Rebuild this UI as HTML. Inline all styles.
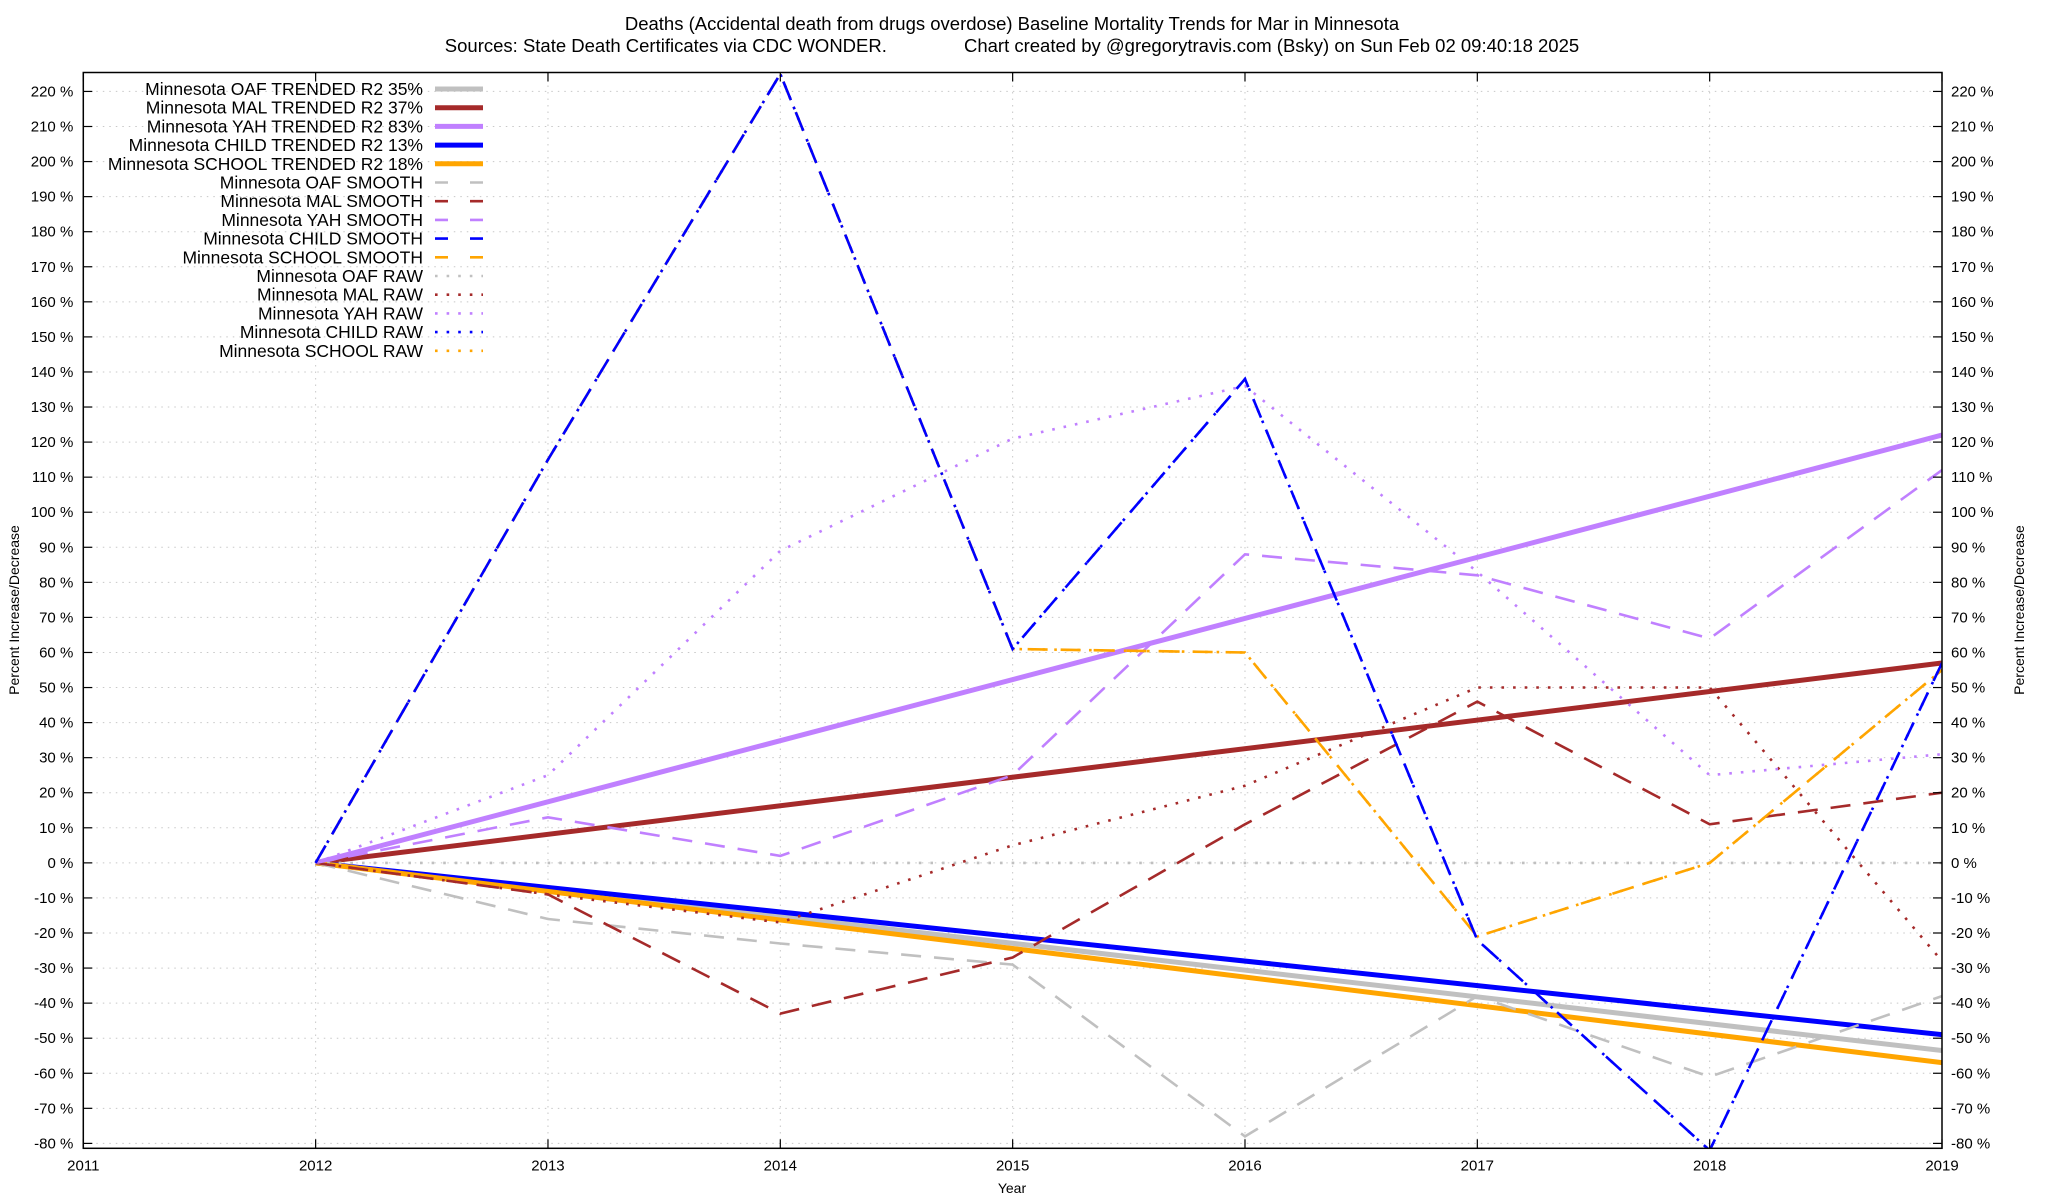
<!DOCTYPE html>
<html><head><meta charset="utf-8"><style>
html,body{margin:0;padding:0;background:#fff;}
svg{display:block;font-family:"Liberation Sans",sans-serif;}
</style></head><body>
<svg id="chart" width="2048" height="1200" xmlns="http://www.w3.org/2000/svg">
<rect width="2048" height="1200" fill="#fff"/>
<text x="1012" y="30" font-size="18.5" text-anchor="middle">Deaths (Accidental death from drugs overdose)  Baseline Mortality Trends for Mar in Minnesota</text>
<text x="1012" y="52" font-size="18.5" text-anchor="middle" xml:space="preserve">Sources: State Death Certificates via CDC WONDER.               Chart created by @gregorytravis.com (Bsky) on Sun Feb 02 09:40:18 2025</text>
<g id="grid"></g>
<g id="series"></g>
<rect x="83.3" y="72.5" width="1858.7" height="1075.8" fill="none" stroke="#000" stroke-width="1.5"/>
<g id="axes"></g>
<text transform="translate(19,610) rotate(-90)" font-size="14" text-anchor="middle">Percent Increase/Decrease</text>
<text transform="translate(2024,610) rotate(-90)" font-size="14" text-anchor="middle">Percent Increase/Decrease</text>
<text x="1012" y="1193" font-size="14" text-anchor="middle">Year</text>
<g id="legend"></g>
</svg>
<script>
const years = [2012, 2013, 2014, 2015, 2016, 2017, 2018, 2019];
const xTicks = [2011, 2012, 2013, 2014, 2015, 2016, 2017, 2018, 2019];
const yTicks = [-80,-70,-60,-50,-40,-30,-20,-10,0,10,20,30,40,50,60,70,80,90,100,110,120,130,140,150,160,170,180,190,200,210,220];
const oafTrend = [0, -53.5];
const malTrend = [0, 57];
const yahTrend = [0, 122];
const childTrend = [0, -49];
const schoolTrend = [0, -57];
const oafSmooth = [0, -16, -23, -29, -78, -38, -61, -38];
const malSmooth = [0, -9, -43, -27, 11, 46, 11, 20];
const yahSmooth = [0, 13, 2, 25, 88, 82, 64, 112];
const childSmooth = [0, 115, 225, 61, 138, -22, -82, 57];
const schoolSmooth = [0, 115, 225, 61, 60, -21, 0, 55];
const oafRaw = [0, 0, 0, 0, 0, 0, 0, 0];
const malRaw = [0, -9, -17, 5, 22, 50, 50, -28];
const yahRaw = [0, 25, 89, 121, 136, 83, 25, 31];
const childRaw = [0, 115, 225, 61, 138, -22, -82, 57];
const schoolRaw = [0, 115, 225, 61, 60, -21, 0, 55];

const NS = "http://www.w3.org/2000/svg";
const X0 = 83.3, X1 = 1942, Y0 = 72.5, Y1 = 1148.3;
const yMin = -81.4, yMax = 225.4;
function xs(yr){ return X0 + (yr - 2011) / 8 * (X1 - X0); }
function ys(v){ return Y1 - (v - yMin) / (yMax - yMin) * (Y1 - Y0); }
function mk(tag, attrs, parent){ const e = document.createElementNS(NS, tag); for (const k in attrs) e.setAttribute(k, attrs[k]); parent.appendChild(e); return e; }

const grid = document.getElementById('grid'), axes = document.getElementById('axes');
yTicks.forEach(v => {
  const y = ys(v);
  const g = mk('line', {x1:X0, x2:X1, y1:y, y2:y, stroke:'#c8c8c8', 'stroke-width':1, 'stroke-dasharray':'1.5 5'}, grid);
  
  
  const t1 = mk('line', {x1:X0, x2:X0+9, y1:y, y2:y, stroke:'#000', 'stroke-width':1.2}, axes);
  
  
  const t2 = mk('line', {x1:X1-9, x2:X1, y1:y, y2:y, stroke:'#000', 'stroke-width':1.2}, axes);
  
  
  const l = mk('text', {x:X0-10, y:y+5, 'font-size':15, 'text-anchor':'end'}, axes);
  l.textContent = v + ' %';
  
  
  const r = mk('text', {x:X1+9, y:y+5, 'font-size':15, 'text-anchor':'start'}, axes);
  r.textContent = v + ' %';
  
  
});
xTicks.forEach(yr => {
  const x = xs(yr);
  const g = mk('line', {x1:x, x2:x, y1:Y0, y2:Y1, stroke:'#c8c8c8', 'stroke-width':1, 'stroke-dasharray':'1.5 5'}, grid);
  
  
  const t1 = mk('line', {x1:x, x2:x, y1:Y1-9, y2:Y1, stroke:'#000', 'stroke-width':1.2}, axes);
  
  
  const t2 = mk('line', {x1:x, x2:x, y1:Y0, y2:Y0+9, stroke:'#000', 'stroke-width':1.2}, axes);
  
  
  const l = mk('text', {x:x, y:Y1+22, 'font-size':15, 'text-anchor':'middle'}, axes);
  l.textContent = yr;
  
  
});

const C = {oaf:'#c0c0c0', mal:'#a52a2a', yah:'#c080ff', child:'#0000ff', school:'#ffa500'};
const solid = {w:5, dash:null}, dashed = {w:2.6, dash:'20 13'}, dotted = {w:2.6, dash:'2.6 9'};
const seriesDefs = [
  ['Minnesota OAF TRENDED R2  35%', oafTrend, C.oaf, solid, 'oaf-trend', true],
  ['Minnesota MAL TRENDED R2  37%', malTrend, C.mal, solid, 'mal-trend', true],
  ['Minnesota YAH TRENDED R2  83%', yahTrend, C.yah, solid, 'yah-trend', true],
  ['Minnesota CHILD TRENDED R2  13%', childTrend, C.child, solid, 'child-trend', true],
  ['Minnesota SCHOOL TRENDED R2  18%', schoolTrend, C.school, solid, 'school-trend', true],
  ['Minnesota OAF SMOOTH', oafSmooth, C.oaf, dashed, 'oaf-smooth', false],
  ['Minnesota MAL SMOOTH', malSmooth, C.mal, dashed, 'mal-smooth', false],
  ['Minnesota YAH SMOOTH', yahSmooth, C.yah, dashed, 'yah-smooth', false],
  ['Minnesota CHILD SMOOTH', childSmooth, C.child, dashed, 'child-smooth', false],
  ['Minnesota SCHOOL SMOOTH', schoolSmooth, C.school, dashed, 'school-smooth', false],
  ['Minnesota OAF RAW', oafRaw, C.oaf, dotted, 'oaf-raw', false],
  ['Minnesota MAL RAW', malRaw, C.mal, dotted, 'mal-raw', false],
  ['Minnesota YAH RAW', yahRaw, C.yah, dotted, 'yah-raw', false],
  ['Minnesota CHILD RAW', childRaw, C.child, dotted, 'child-raw', false],
  ['Minnesota SCHOOL RAW', schoolRaw, C.school, dotted, 'school-raw', false]
];
const drawOrder = [0,1,2,3,4,5,6,7,10,11,12,14,9,13,8];
const sg = document.getElementById('series'), lg = document.getElementById('legend');
mk('clipPath', {id:'clip'}, document.getElementById('chart'));
mk('rect', {x:X0, y:Y0, width:X1-X0, height:Y1-Y0}, document.getElementById('clip'));
sg.setAttribute('clip-path', 'url(#clip)');
drawOrder.forEach(i => {
  const [label, vals, col, st, name, trend] = seriesDefs[i];
  const xsArr = trend ? [2012, 2019] : years;
  const pts = vals.map((v, j) => xs(xsArr[j]).toFixed(1) + ',' + ys(v).toFixed(1)).join(' ');
  const attrs = {points:pts, fill:'none', stroke:col, 'stroke-width':st.w, 'stroke-linejoin':'miter'};
  if (st.dash) attrs['stroke-dasharray'] = st.dash;
  const p = mk('polyline', attrs, sg);
  
  
});
seriesDefs.forEach((d, i) => {
  const [label, vals, col, st, name] = d;
  const ly = 89 + i * 18.7;
  const t = mk('text', {x:423, y:ly+6, 'font-size':17.5, 'text-anchor':'end'}, lg);
  t.textContent = label;
  
  
  const la = {x1:435, x2:483, y1:ly, y2:ly, stroke:col, 'stroke-width':st.w};
  if (st.dash) la['stroke-dasharray'] = st === dashed ? '13 22' : '2.6 9';
  const s = mk('line', la, lg);
  
  
});
</script>
</body></html>
